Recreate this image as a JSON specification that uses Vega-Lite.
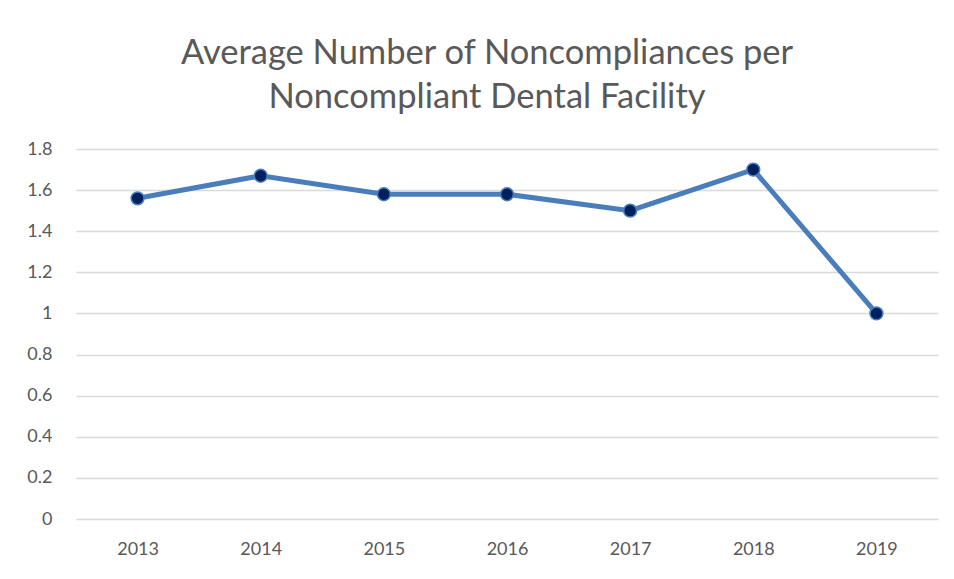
{
  "$schema": "https://vega.github.io/schema/vega-lite/v6.json",
  "width": 862,
  "height": 370,
  "autosize": {"type": "none"},
  "padding": {"left": 76, "top": 149, "right": 16, "bottom": 60},
  "background": "white",
  "title": {
    "text": ["Average Number of Noncompliances per", "Noncompliant Dental Facility"],
    "font": "Lato",
    "fontSize": 34.5,
    "fontWeight": "normal",
    "color": "#595959",
    "anchor": "middle",
    "dx": -20,
    "dy": 54,
    "offset": 45,
    "lineHeight": 44,
    "baseline": "bottom"
  },
  "data": {
    "values": [
      {"year": "2013", "value": 1.56},
      {"year": "2014", "value": 1.67},
      {"year": "2015", "value": 1.58},
      {"year": "2016", "value": 1.58},
      {"year": "2017", "value": 1.5},
      {"year": "2018", "value": 1.7},
      {"year": "2019", "value": 1.0}
    ]
  },
  "encoding": {
    "x": {
      "field": "year",
      "type": "ordinal",
      "scale": {"paddingInner": 0, "paddingOuter": 0.5},
      "axis": {
        "title": null,
        "labelAngle": 0,
        "labelFont": "Lato",
        "labelFontSize": 18,
        "labelColor": "#595959",
        "labelPadding": 21,
        "ticks": false,
        "domain": false,
        "grid": false
      }
    },
    "y": {
      "field": "value",
      "type": "quantitative",
      "scale": {"domain": [0, 1.8], "nice": false},
      "axis": {
        "title": null,
        "values": [0, 0.2, 0.4, 0.6, 0.8, 1, 1.2, 1.4, 1.6, 1.8],
        "format": ".1~f",
        "labelFont": "Lato",
        "labelFontSize": 18,
        "labelColor": "#595959",
        "labelPadding": 24,
        "ticks": false,
        "domain": false,
        "gridColor": "#d9d9d9",
        "gridWidth": 1.5
      }
    }
  },
  "layer": [
    {"mark": {"type": "line", "color": "#4a7ebb", "strokeWidth": 5}},
    {"mark": {"type": "point", "filled": true, "fill": "#002060", "stroke": "#4a7ebb", "strokeWidth": 1.5, "size": 165, "opacity": 1}}
  ],
  "config": {"view": {"stroke": null}}
}
